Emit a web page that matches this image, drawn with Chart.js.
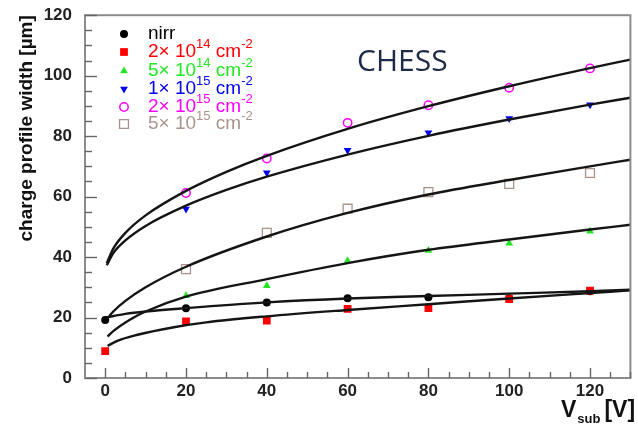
<!DOCTYPE html>
<html><head><meta charset="utf-8">
<script src="https://cdn.jsdelivr.net/npm/chart.js@4/dist/chart.umd.min.js"></script>
<style>html,body{margin:0;padding:0;background:#fff}#wrap{width:638px;height:427px;position:relative}</style>
</head><body><div id="wrap"><canvas id="c" width="638" height="427"></canvas></div>
<script>
// ---- data ----
const vsub = [0, 20, 40, 60, 80, 100, 120];
const nirr   = [19.2, 23.1, 25.0, 26.4, 26.7, 26.3, 28.7];
const f2e14  = [8.9, 18.7, 19.0, 22.9, 23.1, 26.1, 28.9];
const f5e14  = [null, 27.2, 30.5, 38.8, 42.2, 44.6, 48.5];
const f1e15  = [null, 55.9, 67.9, 75.3, 81.1, 85.8, 90.4];
const f2e15  = [null, 61.2, 72.6, 84.4, 90.2, 96.0, 102.4];
const f5e15  = [null, 36.0, 48.0, 56.0, 61.5, 64.2, 67.8];

// fit curves
const fitTopX   = [0.4, 2, 5, 10, 20, 30, 40, 60, 80, 100, 120, 130];
const fit2e15   = [38, 42.8, 48, 53.8, 61.9, 68.2, 73.5, 82.4, 89.9, 96.5, 102.5, 105.3];
const fit1e15   = [37.3, 41.3, 45.5, 50.3, 57.0, 62.2, 66.6, 73.9, 80.1, 85.5, 90.4, 92.7];
const fit5e15X  = [1, 2, 5, 10, 20, 40, 60, 80, 100, 120, 130];
const fit5e15   = [20.5, 22, 25.5, 30, 36.8, 46.8, 54.6, 60.7, 65.5, 70, 72.2];
const fit5e14X  = [0.6, 2, 6, 10, 20, 40, 60, 80, 100, 120, 130];
const fit5e14   = [13.7, 15.5, 19.2, 22, 26.9, 32.7, 38, 42.4, 45.8, 49.1, 50.7];
const fitNirrX  = [0.2, 5, 10, 20, 40, 60, 80, 100, 120, 130];
const fitNirr   = [20, 21.2, 22, 23.1, 25, 26.3, 27.1, 27.9, 28.7, 29.2];
const fit2e14X  = [0.6, 3, 8, 17, 25, 40, 60, 80, 100, 120, 130];
const fit2e14   = [10.6, 12.3, 14.3, 16.8, 18.4, 20.4, 22.5, 24.4, 26.3, 28.1, 29.0];

const xTicks = [0, 20, 40, 60, 80, 100, 120];
const yTicks = [0, 20, 40, 60, 80, 100, 120];
const legendLabels = ['nirr', '2\u00d7 10^14^ cm^-2^', '5\u00d7 10^14^ cm^-2^', '1\u00d7 10^15^ cm^-2^', '2\u00d7 10^15^ cm^-2^', '5\u00d7 10^15^ cm^-2^'];
const chartLabel = 'CHESS';
const yTitle = 'charge profile width [\u00b5m]';

const pts = (xs, ys) => xs.map((x, i) => ({x, y: ys[i]})).filter(p => p.y !== null);

const fitStyle = {showLine: true, pointRadius: 0, borderColor: '#151515', borderWidth: 2.4,
  cubicInterpolationMode: 'monotone', fill: false, order: 0};

const markerSets = [
  {label: legendLabels[0], data: pts(vsub, nirr), pointStyle: 'circle', pointRadius: 4, backgroundColor: '#000', borderColor: '#000', borderWidth: 0, order: 3},
  {label: legendLabels[1], data: pts(vsub, f2e14), pointStyle: 'rect', pointRadius: 5.5, backgroundColor: '#ff0000', borderColor: '#ff0000', borderWidth: 0, order: 2},
  {label: legendLabels[2], data: pts(vsub, f5e14), pointStyle: 'triangle', pointRadius: 4.5, backgroundColor: '#22e622', borderColor: '#22e622', borderWidth: 0, order: 2},
  {label: legendLabels[3], data: pts(vsub, f1e15), pointStyle: 'triangle', rotation: 180, pointRadius: 4.5, backgroundColor: '#0000ee', borderColor: '#0000ee', borderWidth: 0, order: 2},
  {label: legendLabels[4], data: pts(vsub, f2e15), pointStyle: 'circle', pointRadius: 4.2, backgroundColor: 'rgba(0,0,0,0)', borderColor: '#ff00ff', borderWidth: 1.5, order: 2},
  {label: legendLabels[5], data: pts(vsub, f5e15), pointStyle: 'rect', pointRadius: 6.3, backgroundColor: 'rgba(0,0,0,0)', borderColor: '#a8948a', borderWidth: 1.3, order: 2},
];
const legendColors = ['#000000', '#ff0000', '#22e622', '#0000ee', '#ff00ff', '#a8948a'];

const fitSets = [
  Object.assign({label: 'fit nirr', data: pts(fitNirrX, fitNirr)}, fitStyle),
  Object.assign({label: 'fit 2e14', data: pts(fit2e14X, fit2e14)}, fitStyle),
  Object.assign({label: 'fit 5e14', data: pts(fit5e14X, fit5e14)}, fitStyle),
  Object.assign({label: 'fit 1e15', data: pts(fitTopX, fit1e15)}, fitStyle),
  Object.assign({label: 'fit 2e15', data: pts(fitTopX, fit2e15)}, fitStyle),
  Object.assign({label: 'fit 5e15', data: pts(fit5e15X, fit5e15)}, fitStyle),
];

function drawRich(ctx, text, x, y, size, color) {
  const parts = text.split('^');
  let cx = x;
  ctx.fillStyle = color;
  ctx.textAlign = 'left';
  ctx.textBaseline = 'alphabetic';
  parts.forEach((p, i) => {
    if (!p) return;
    const sup = i % 2 === 1;
    ctx.font = (sup ? Math.round(size * 0.68) : size) + 'px "Liberation Sans", Arial, sans-serif';
    ctx.fillText(p, cx, sup ? y - size * 0.45 : y);
    cx += ctx.measureText(p).width;
  });
}

const decor = {
  id: 'decor',
  afterDraw(chart) {
    const ctx = chart.ctx, a = chart.chartArea;
    const xs = chart.scales.x, ys = chart.scales.y;
    ctx.save();
    // frame
    ctx.strokeStyle = '#8c8c8c';
    ctx.lineWidth = 2;
    ctx.strokeRect(a.left, a.top, a.right - a.left, a.bottom - a.top);
    // inward ticks
    ctx.lineWidth = 1.4;
    ctx.strokeStyle = '#666';
    for (let v = 0; v <= 130; v += 5) {
      const px = Math.round(xs.getPixelForValue(v)) + 0.5;
      const len = v % 20 === 0 ? 10 : 6;
      ctx.beginPath(); ctx.moveTo(px, a.bottom); ctx.lineTo(px, a.bottom - len); ctx.stroke();
    }
    for (let v = 0; v <= 120; v += 5) {
      const py = Math.round(ys.getPixelForValue(v)) + 0.5;
      const len = v % 20 === 0 ? 12 : 7;
      ctx.beginPath(); ctx.moveTo(a.left, py); ctx.lineTo(a.left + len, py); ctx.stroke();
    }
    // legend
    const rowY = [34, 52, 71, 89, 107, 124];
    markerSets.forEach((ds, i) => {
      ctx.fillStyle = ds.backgroundColor; ctx.strokeStyle = ds.borderColor; ctx.lineWidth = ds.borderWidth;
      Chart.helpers.drawPoint(ctx, {pointStyle: ds.pointStyle, rotation: ds.rotation || 0, radius: ds.pointRadius, borderWidth: ds.borderWidth}, 124, rowY[i]);
      drawRich(ctx, legendLabels[i], 148, rowY[i] + 5, 19, legendColors[i]);
    });
    // CHESS label
    ctx.fillStyle = '#1e2b48';
    ctx.font = '30px "Open Sans", sans-serif';
    ctx.textAlign = 'left';
    ctx.fillText(chartLabel, 357, 71);
    // x title V_sub [V]
    ctx.fillStyle = '#111';
    ctx.font = 'bold 23px "Liberation Sans", Arial, sans-serif';
    ctx.fillText('V', 561, 417);
    let w = ctx.measureText('V').width;
    ctx.font = 'bold 13px "Liberation Sans", Arial, sans-serif';
    ctx.fillText('sub', 561 + w + 1, 423);
    let w2 = ctx.measureText('sub').width;
    ctx.font = 'bold 23px "Liberation Sans", Arial, sans-serif';
    ctx.fillText('[V]', 561 + w + w2 + 5, 417);
    ctx.restore();
  }
};

const tickFont = {family: '"Liberation Sans", Arial, sans-serif', size: 17, weight: 'bold'};

new Chart(document.getElementById('c'), {
  type: 'scatter',
  data: {datasets: [...fitSets, ...markerSets]},
  options: {
    responsive: false, devicePixelRatio: 1, animation: false, events: [],
    layout: {padding: {left: 0, right: 5, top: 15, bottom: 0}},
    plugins: {legend: {display: false}, tooltip: {enabled: false}},
    scales: {
      x: {
        type: 'linear', min: -5, max: 130,
        afterBuildTicks: s => { s.ticks = xTicks.map(v => ({value: v})); },
        afterFit: s => { s.height = 49; },
        grid: {display: false, drawTicks: false}, border: {display: false},
        ticks: {font: tickFont, color: '#222', padding: 3, maxRotation: 0, autoSkip: false}
      },
      y: {
        type: 'linear', min: 0, max: 120,
        afterBuildTicks: s => { s.ticks = yTicks.map(v => ({value: v})); },
        afterFit: s => { s.width = 85; },
        grid: {display: false}, border: {display: false},
        ticks: {font: tickFont, color: '#222', padding: 5, autoSkip: false},
        title: {display: true, text: yTitle, align: 'end', color: '#111',
          font: {family: '"Liberation Sans", Arial, sans-serif', size: 19, weight: 'bold'},
          padding: {top: 15, bottom: 0}}
      }
    }
  },
  plugins: [decor]
});
</script></body></html>
